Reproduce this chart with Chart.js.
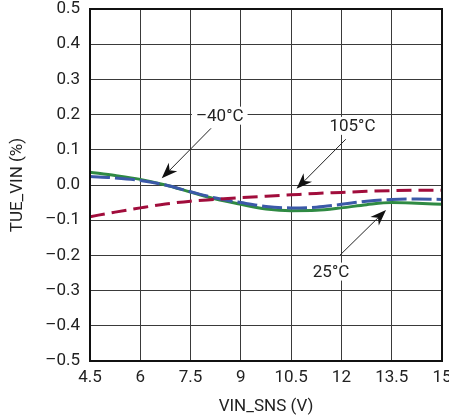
<!DOCTYPE html>
<html>
<head>
<meta charset="utf-8">
<script src="https://cdn.jsdelivr.net/npm/chart.js@4/dist/chart.umd.min.js"></script>
<style>
  html, body { margin: 0; padding: 0; background: #fff; }
  canvas { display: block; }
</style>
</head>
<body>
<canvas id="tue" width="449" height="417"></canvas>
<script>
// VIN_SNS sweep (V) and total unadjusted error (%) per temperature
const vinSns = [4.5, 5.25, 6, 6.75, 7.5, 8.25, 9, 9.75, 10.5, 11.25, 12, 12.75, 13.5, 14.25, 15];
const tue25 = [0.036, 0.027, 0.016, 0.0, -0.02, -0.04, -0.055, -0.068, -0.073, -0.072, -0.065, -0.056, -0.05, -0.052, -0.055];
const tueM40 = [0.024, 0.02, 0.013, 0.0, -0.019, -0.037, -0.05, -0.061, -0.065, -0.063, -0.055, -0.046, -0.041, -0.04, -0.041];
const tue105 = [-0.09, -0.077, -0.065, -0.054, -0.046, -0.041, -0.036, -0.032, -0.028, -0.024, -0.021, -0.018, -0.016, -0.015, -0.015];

const xTicks = [4.5, 6, 7.5, 9, 10.5, 12, 13.5, 15];
const yTicks = [-0.5, -0.4, -0.3, -0.2, -0.1, 0, 0.1, 0.2, 0.3, 0.4, 0.5];

// callouts: label position and arrow tail/tip, in data units
const callouts = [
    { text: "\u201340\u00b0C", at: [8.37, 0.197], from: [8.11, 0.161], to: [6.64, 0.019] },
    { text: "105\u00b0C", at: [12.33, 0.168], from: [12.13, 0.13], to: [10.66, -0.011] },
    { text: "25\u00b0C", at: [11.69, -0.246], from: [11.96, -0.199], to: [13.33, -0.071] },
];

const FONT = "Roboto, 'Liberation Sans', sans-serif";

const pts = (ys) => vinSns.map((x, i) => ({ x, y: ys[i] }));

const fmtY = (v) => {
    const s = Math.abs(v).toFixed(1);
    return v < -1e-9 ? "\u2013" + s : s;
};

const calloutPlugin = {
    id: "callouts",
    afterDatasetsDraw(chart) {
        const { ctx, scales } = chart;
        const px = (p) => [scales.x.getPixelForValue(p[0]), scales.y.getPixelForValue(p[1])];
        ctx.save();
        ctx.font = "17px " + FONT;
        ctx.textAlign = "center";
        ctx.textBaseline = "middle";
        callouts.forEach((c) => {
            const [lx, ly] = px(c.at);
            const w = ctx.measureText(c.text).width;
            ctx.fillStyle = "#fff";
            ctx.fillRect(lx - w / 2 - 4, ly - 9, w + 8, 18);
            ctx.fillStyle = "#222";
            ctx.fillText(c.text, lx, ly + 1);

            const [x0, y0] = px(c.from);
            const [x1, y1] = px(c.to);
            const ang = Math.atan2(y1 - y0, x1 - x0);
            const cs = Math.cos(ang), sn = Math.sin(ang);
            const len = 16, half = 6;
            ctx.strokeStyle = "#222";
            ctx.lineWidth = 1;
            ctx.beginPath();
            ctx.moveTo(x0, y0);
            ctx.lineTo(x1 - cs * len * 0.7, y1 - sn * len * 0.7);
            ctx.stroke();
            // stealth arrowhead
            ctx.fillStyle = "#111";
            ctx.beginPath();
            ctx.moveTo(x1, y1);
            ctx.lineTo(x1 - cs * len - sn * half, y1 - sn * len + cs * half);
            ctx.lineTo(x1 - cs * len * 0.7, y1 - sn * len * 0.7);
            ctx.lineTo(x1 - cs * len + sn * half, y1 - sn * len - cs * half);
            ctx.closePath();
            ctx.fill();
        });
        ctx.restore();
    },
};

// heavy frame around the plot area
const framePlugin = {
    id: "frame",
    afterDraw(chart) {
        const { ctx, chartArea: a } = chart;
        ctx.save();
        ctx.strokeStyle = "#111";
        ctx.lineWidth = 2;
        ctx.strokeRect(a.left, a.top, a.right - a.left, a.bottom - a.top);
        ctx.restore();
    },
};

const ctx = document.getElementById("tue").getContext("2d");
new Chart(ctx, {
    type: "line",
    data: {
        datasets: [
            {
                label: "105\u00b0C",
                data: pts(tue105),
                borderColor: "#a10d3c",
                borderWidth: 3,
                borderDash: [15, 7],
                pointRadius: 0,
                cubicInterpolationMode: "monotone",
                order: 0,
            },
            {
                label: "\u201340\u00b0C",
                data: pts(tueM40),
                borderColor: "#3b59a8",
                borderWidth: 3,
                borderDash: [20, 5],
                pointRadius: 0,
                cubicInterpolationMode: "monotone",
                order: 1,
            },
            {
                label: "25\u00b0C",
                data: pts(tue25),
                borderColor: "#2f8a43",
                borderWidth: 3,
                pointRadius: 0,
                cubicInterpolationMode: "monotone",
                order: 2,
            },
        ],
    },
    options: {
        responsive: false,
        animation: false,
        layout: { padding: { top: 9, right: 7, left: 0, bottom: 0 } },
        plugins: { legend: { display: false }, tooltip: { enabled: false } },
        scales: {
            x: {
                type: "linear",
                min: 4.5,
                max: 15,
                afterBuildTicks: (s) => { s.ticks = xTicks.map((v) => ({ value: v })); },
                afterFit: (s) => { s.height = 56; s.paddingRight = 0; s.paddingLeft = 0; },
                grid: { color: "#3a3a3a", lineWidth: 1, drawTicks: false },
                border: { display: false },
                ticks: {
                    padding: 7,
                    color: "#222",
                    font: { family: FONT, size: 17 },
                    maxRotation: 0,
                    callback: (v) => String(v),
                },
                title: {
                    display: true,
                    text: "VIN_SNS (V)",
                    color: "#222",
                    font: { family: FONT, size: 17 },
                    padding: { top: 3, bottom: 0 },
                },
            },
            y: {
                min: -0.5,
                max: 0.5,
                afterBuildTicks: (s) => { s.ticks = yTicks.map((v) => ({ value: v })); },
                afterFit: (s) => { s.width = 90; s.paddingTop = 0; s.paddingBottom = 0; },
                grid: { color: "#3a3a3a", lineWidth: 1, drawTicks: false },
                border: { display: false },
                ticks: {
                    padding: 10,
                    color: "#222",
                    font: { family: FONT, size: 17 },
                    callback: (v) => fmtY(v),
                },
                title: {
                    display: true,
                    text: "TUE_VIN (%)",
                    color: "#222",
                    font: { family: FONT, size: 17 },
                    padding: { top: 8, bottom: 0 },
                },
            },
        },
    },
    plugins: [calloutPlugin, framePlugin],
});
</script>
</body>
</html>
